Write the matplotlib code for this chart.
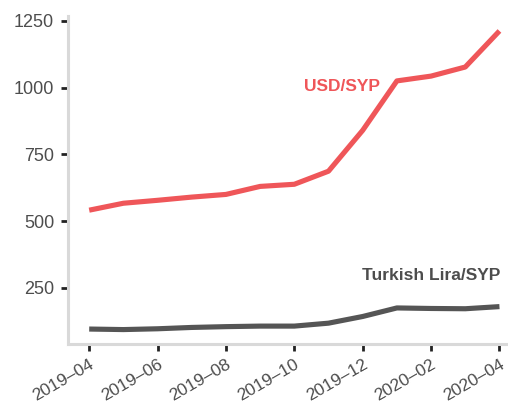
import matplotlib
matplotlib.use("Agg")
import matplotlib.pyplot as plt

months = ["2019-04", "2019-05", "2019-06", "2019-07", "2019-08", "2019-09", "2019-10",
          "2019-11", "2019-12", "2020-01", "2020-02", "2020-03", "2020-04"]
usd_syp = [541, 567, 578, 590, 600, 630, 638, 687, 840, 1025, 1043, 1077, 1212]
try_syp = [96, 94, 97, 102, 105, 107, 107, 118, 143, 175, 173, 172, 180]
tick_labels = ["2019-04", "2019-06", "2019-08", "2019-10", "2019-12", "2020-02", "2020-04"]

plt.rcParams['font.family'] = ['Liberation Sans', 'DejaVu Sans']

fig = plt.figure(figsize=(5.08, 4.05), dpi=100)
ax = fig.add_axes([68/508, 1 - 344/405, (508 - 68)/508, (344 - 16)/405])

x = list(range(len(months)))
red = "#ef5659"
dark = "#555555"
ax.plot(x, usd_syp, color=red, lw=3.7, solid_capstyle='butt')
ax.plot(x, try_syp, color=dark, lw=3.7, solid_capstyle='butt')

ax.set_xlim(-0.62, 12.25)
ax.set_ylim(40, 1268)
ax.set_yticks([250, 500, 750, 1000, 1250])
tick_pos = [months.index(t) for t in tick_labels]
ax.set_xticks(tick_pos)
ax.set_xticklabels([t.replace("-", "\u2013") for t in tick_labels], rotation=30,
                   ha='right', rotation_mode='anchor')

for s in ['top', 'right']:
    ax.spines[s].set_visible(False)
for s in ['left', 'bottom']:
    ax.spines[s].set_color("#d9d9d9")
    ax.spines[s].set_linewidth(2.2)
ax.tick_params(axis='y', colors="#222222", length=5, width=2, labelsize=13,
               labelcolor="#4d4d4d", pad=5)
ax.tick_params(axis='x', colors="#222222", length=5, width=2, labelsize=12.5,
               labelcolor="#4d4d4d", pad=4)

ax.text(7.39, 1005, "USD/SYP", color=red, fontsize=12.5, fontweight='bold',
        ha='center', va='center')
ax.text(12.03, 297, "Turkish Lira/SYP", color="#4d4d4d", fontsize=12.5, fontweight='bold',
        ha='right', va='center')

fig.savefig("out.png", dpi=100)
